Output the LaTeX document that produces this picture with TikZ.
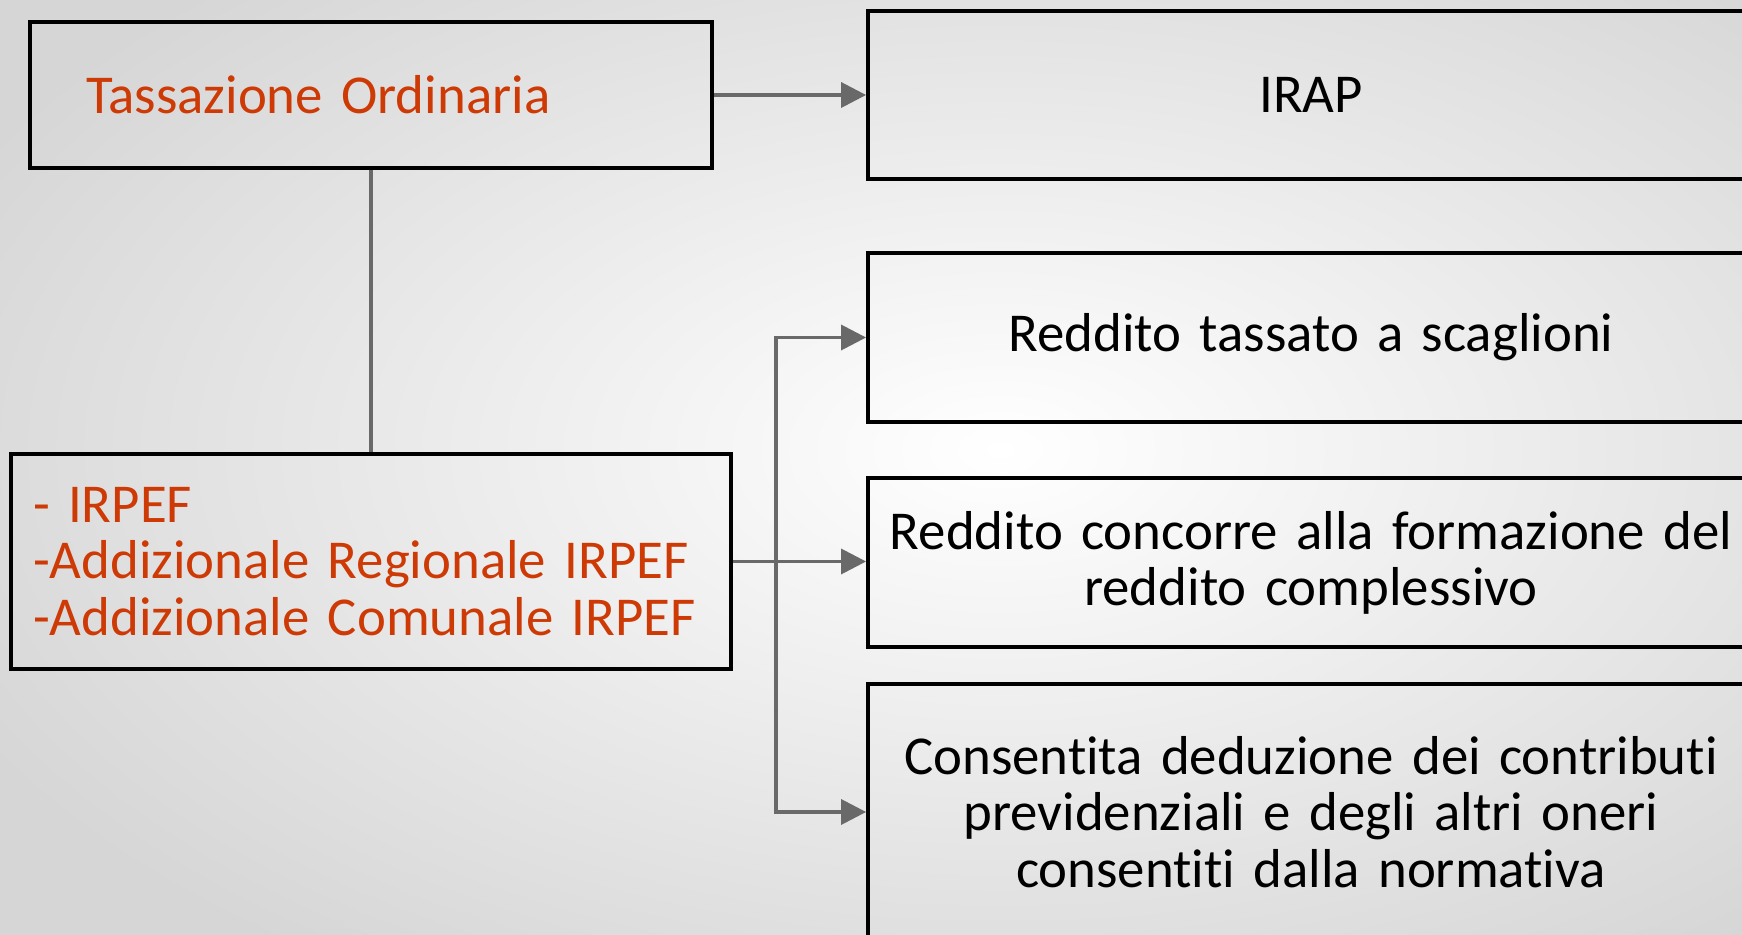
\documentclass[tikz,border=0pt]{standalone}
\usepackage{fontspec}
\setmainfont{Carlito}[Ligatures={NoCommon}]
\usetikzlibrary{arrows.meta}

\definecolor{taxred}{RGB}{205,58,5}
\definecolor{linkgray}{RGB}{105,105,105}

\tikzset{
  box/.style={draw=black, line width=0.08cm, rectangle, inner sep=0pt},
  rbox/.style={box, minimum width=17.72cm, text width=17cm, align=center},
  link/.style={draw=linkgray, line width=0.07cm},
  arr/.style={link, -{Triangle[length=0.5cm, width=0.5cm]}},
}

\begin{document}
\begin{tikzpicture}[x=0.02cm, y=-0.02cm, font=\fontsize{31.2}{32}\selectfont]
		\useasboundingbox (0,0) rectangle (1742,935);
		\clip (0,0) rectangle (1742,935);
		% background
		\shade[inner color=white, outer color=black!16] (-150,-180) rectangle (2150,1080);

		% left side
		\node [box, minimum height=2.92cm, text width=11.4cm, inner xsep=1.12cm, align=left, text=taxred] (ord) at (371,95) {Tassazione Ordinaria};
		\node [box, minimum height=4.3cm, text width=13.52cm, inner xsep=0.44cm, align=left, text=taxred] (irpef) at (371,561.5) {- IRPEF\\-Addizionale Regionale IRPEF\\-Addizionale Comunale IRPEF};

		% right side
		\node [rbox, minimum height=3.36cm] (irap) at (1311,95) {IRAP};
		\node [rbox, minimum height=3.38cm] (scagl) at (1311,337.5) {Reddito tassato a scaglioni};
		\node [rbox, minimum height=3.38cm] (compl) at (1311,562.5) {Reddito concorre alla formazione del\\reddito complessivo};
		\node [rbox, minimum height=5.12cm] (oneri) at (1311,812) {Consentita deduzione dei contributi\\previdenziali e degli altri oneri\\consentiti dalla normativa};

		% connectors
		\coordinate (fork) at (776,0);
		\draw [arr] (ord.east) -- (irap.west);
		\draw [link] (ord.south) -- (irpef.north);
		\draw [arr] (irpef.east) -- (irpef.east -| compl.west);
		\draw [arr, {Triangle[length=0.5cm, width=0.5cm]}-{Triangle[length=0.5cm, width=0.5cm]}] (scagl.west) -- (scagl.west -| fork) -- (oneri.west -| fork) -- (oneri.west);
\end{tikzpicture}
\end{document}
